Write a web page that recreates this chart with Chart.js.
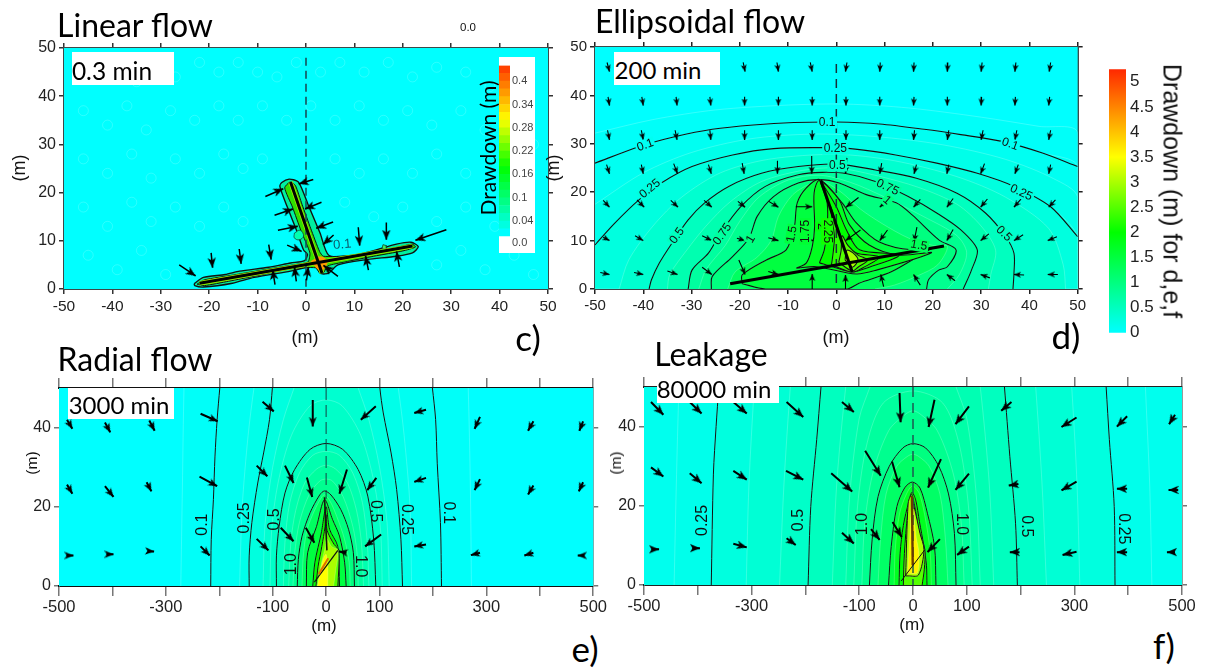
<!DOCTYPE html>
<html>
<head>
<meta charset="utf-8">
<title>Drawdown maps</title>
<script src="https://cdn.jsdelivr.net/npm/chart.js@4"></script>
<style>
  html, body { margin: 0; padding: 0; background: #fff; }
  #page { position: relative; width: 1210px; height: 668px; overflow: hidden; }
  canvas { position: absolute; }
  .txt { position: absolute; white-space: nowrap; color: #111; transform: translate(-50%, -50%); font-family: "Liberation Sans", sans-serif; }
  .big { font-family: Lato, sans-serif; color: #000; }
  .box { position: absolute; background: #fff; }
</style>
</head>
<body>
<div id="page"></div>
<script>
// ===== axis ticks =====
const tensTicks = [-50, -40, -30, -20, -10, 0, 10, 20, 30, 40, 50];
const depthTicks = [0, 10, 20, 30, 40, 50];
const wideTicks = [-500, -400, -300, -200, -100, 0, 100, 200, 300, 400, 500];
const wideLabels = [-500, -300, -100, 0, 100, 300, 500];
const lowDepthTicks = [0, 20, 40];

// ===== panel c, linear flow =====
const cOuter = [[-23.1,1.1],[-21.2,2.4],[-16.7,3],[-13.7,3.7],[-7.7,4.5],[-3.2,5.4],[-0.3,5.9],[0.3,7.2],[-0.5,8.1],[-2,12.3],[-3.9,17.1],[-5.4,21.3],[-5,22.1],[-3.5,22.8],[-1.7,22.3],[-0.9,20.9],[0.6,17.1],[2.9,11.6],[4.7,7],[8.9,6.9],[13.4,7.8],[18.7,9.3],[21.7,9.7],[23.2,8.8],[22,7.5],[18.7,6.8],[12.6,6.1],[6.6,5],[4.7,3.3],[3.2,3.2],[1.7,4.7],[-3.2,3.7],[-10.7,2.4],[-15.2,1.2],[-21.2,0.4],[-23,0.7],[-23.1,1.1]];
const cInner = [[-22.5,1],[-21,1.9],[-15,2.9],[-8,4.1],[-2,5.1],[0.4,5.6],[0.8,7.5],[-1,12],[-2.8,17],[-4.4,21],[-3.3,22.2],[-2.2,21.5],[-0.8,17.5],[1,12.5],[2.8,7.8],[3.6,6.8],[9,6.9],[15,7.9],[20,8.9],[22,9.3],[22.6,8.7],[20,7.9],[14,6.8],[8,5.6],[4.5,4.8],[3.7,3.5],[2.9,3.2],[2,4.4],[-3,4.2],[-10,2.8],[-16,1.6],[-21,0.7],[-22.5,1]];
const cSpot = [[1,5.8],[3,6.8],[4.5,5.8],[3.6,4],[2.5,4],[1,5.8]];
const cLoop1 = [[-2.4,11.6],[-1.2,12.2],[-0.5,11],[-1.4,10.2],[-2.4,10.6],[-2.4,11.6]];
const cLoop2 = [[15.7,8.3],[15.9,9.2],[16.6,9],[16.6,8.2],[15.7,8.3]];
const cBarH = [[-22,1.2],[22,8.9]];
const cBarV = [[-3.2,22.2],[3.3,3.3]];
const cDash = [[0,48],[0,0]];
const cArrows = [[-26.2,5,-22.8,2.7],[-19.6,7.5,-19.3,4.4],[-13.8,8.3,-13.4,5.2],[-7.7,9.2,-7.2,6.1],[-3.9,9.1,-0.9,7.8],[-5.8,12.2,-1.7,13],[-6.5,15.3,-2.7,16.6],[-8.4,19.2,-4.7,20.8],[1.5,22.7,-1.5,21.8],[3.2,18,-0.2,16.6],[5.6,13.9,2.1,12.6],[5.7,11.2,3.5,9.2],[10.8,12.8,11.1,9],[16.6,13.8,16.6,10.2],[29,12.3,22.6,10.1],[19.3,4.6,18.7,7.8],[12.9,3.9,12.3,6.9],[-6.4,0.9,-6.9,4],[-2,1.6,-2.4,4.6],[0.1,1.8,0.5,4.6],[6.6,2.6,3.6,4.9]];
const cSpecks = [[-47,44],[-43,46],[-38,47],[-35,43],[-31,46],[-27,44],[-22,47],[-18,45],[-14,47],[-10,45],[-6,44],[-2,47],[3,45],[7,47],[12,45],[17,47],[22,44],[27,46],[33,45],[38,42],[-46,37],[-41,34],[-37,38],[-33,33],[-28,37],[-23,35],[-18,38],[-14,35],[-9,38],[-4,35],[1,38],[6,35],[11,38],[16,35],[21,37],[26,34],[32,37],[37,33],[44,36],[47,30],[-46,27],[-41,24],[-36,28],[-32,23],[-27,27],[-22,24],[-17,28],[-13,25],[-9,27],[6,27],[11,24],[16,27],[22,24],[27,28],[33,24],[38,27],[45,22],[-46,17],[-41,13],[-36,18],[-32,14],[-27,17],[-22,13],[-17,17],[-13,14],[8,18],[14,15],[20,17],[27,14],[33,17],[39,13],[46,15],[-45,7],[-39,4],[-34,8],[-29,3],[27,5],[32,8],[37,4],[43,7],[47,3]];
const cBarEdges = [-0.02,0,0.02,0.04,0.06,0.08,0.1,0.12,0.14,0.16,0.18,0.2,0.22,0.24,0.26,0.28,0.3,0.32,0.34,0.36,0.38,0.4,0.42,0.44];
const cBarTicks = [-0.017,0.04,0.1,0.16,0.22,0.28,0.34,0.4];
const cBarLabels = ['0.0','0.04','0.1','0.16','0.22','0.28','0.34','0.4'];
const cTextLabels = [[7.5,9.2,'0.1',-5]];

// ===== panel d, ellipsoidal flow =====
const d005 = [[-50,32.2],[-38,35],[-25,37],[-10,38],[2,38.2],[15,37.4],[30,35.5],[42,33.6],[50,32.3]];
const d010 = [[-50,26],[-40.9,29.4],[-33.3,31.5],[-25.7,33],[-17.2,33.9],[-8.8,34.4],[0,34.5],[9,34.1],[18.2,33],[25.8,31.9],[34.3,30.5],[42.7,28.1],[50,25.3]];
const d017 = [[-50,17.5],[-40,24],[-30,28.2],[-18,31],[-5,32],[8,31.5],[22,29.8],[35,26.8],[45,22.8],[50,19]];
const d025 = [[-50,9.1],[-46,13.5],[-40.9,18.4],[-36.1,22],[-29.9,25.3],[-21.5,27.7],[-13,29],[-2.9,29.2],[3.9,28.9],[12.3,27.7],[20.8,26],[29.2,23.9],[36.8,21.2],[44.4,17],[50,10.8]];
const d037 = [[-45,0],[-43,6],[-38,13],[-32,19],[-24,24],[-14,26.8],[0,27.8],[12,26.5],[25,23.2],[35,19],[44,12.5],[47,5],[47.5,0]];
const d050 = [[-38.8,0],[-38.3,1.9],[-36.7,5.3],[-34.1,9.4],[-30.7,14.3],[-27.4,17.7],[-22.3,21.2],[-15.5,23.9],[-7.9,25.3],[0,25.8],[8.1,24.6],[16.6,22.9],[25,19.8],[30.9,15.7],[35.1,10.8],[36.8,7.4],[36.8,3.2],[36.6,0]];
const d062 = [[-35,0],[-34.5,3],[-31,8],[-27,13],[-22,18],[-15.5,22.2],[-7,24.5],[0,25],[8,23.5],[17,21],[25,17.5],[30,13],[33,8],[32,3],[31.5,0]];
const d075 = [[-30.7,0],[-29.9,3.9],[-26.5,7.4],[-24,11.5],[-19.8,17],[-14.7,21.2],[-7.9,23.6],[-2.9,24.1],[2.2,23.8],[8.1,22.2],[14.9,19.1],[20.8,15.7],[25.8,12.2],[29.2,8.1],[28,3.9],[26.3,0]];
const d087 = [[-28.5,0],[-27,4],[-23,9],[-20,14],[-16,19],[-10,22.5],[-3.5,23.5],[3,22],[10,19],[18,15],[25,11],[27,7.5],[25.5,3],[23,0]];
const d100 = [[-25.9,0],[-25.7,2.6],[-21.5,6.7],[-18.1,10.5],[-16.4,15],[-13,19.1],[-7.9,21.9],[-3.5,22.6],[0.6,21.9],[6.2,19.5],[12.4,17.8],[15.7,15.3],[21.3,10.1],[24.8,8.1],[23,4.6],[21.2,3.9],[19.1,1.9],[18.7,0]];
const d125 = [[-22.5,0],[-21,3.5],[-16.5,6.5],[-13.5,10],[-12,15],[-9,19.5],[-5,22],[-3.5,22.6],[1,20],[5,16.5],[9.5,13.5],[15,10.5],[20,9],[23,8.8],[21,5],[17,2.8],[12,0.8],[8,0]];
const d150 = [[-19.5,1.1],[-19.5,2.9],[-14.5,6],[-10.4,8.1],[-8.7,12.8],[-8.1,17.8],[-6.2,20.9],[-3.5,22.6],[1.2,17.8],[4.1,13.7],[8.9,9.7],[15.7,8.1],[21.9,8.7],[19.9,8.4],[11.5,3.6],[4.7,1.2],[2.2,0],[-14.7,0],[-19.5,1.1]];
const d175 = [[-8.3,4.3],[-6.2,5.4],[-5,8.7],[-4.5,12.8],[-4.6,19.9],[-3.5,22.4],[0.6,18.4],[2.7,13.3],[6.8,9.1],[13,7],[19.7,7.5],[8.3,3.9],[4.1,3.1],[-4.1,4.6],[-8.3,4.3]];
const d200 = [[-3.5,5.4],[-2.5,8.1],[-1.9,12.2],[-1.9,17.8],[-3.2,22],[0,17],[2.1,12.2],[4.8,8.1],[13,7],[6.2,4.3],[3.3,3.5],[-0.8,4.6],[-3.5,5.4]];
const d225 = [[-1,5],[-0.6,8],[-0.4,11],[-1.2,17],[0.5,12],[2,9],[4.3,7.4],[9,6.6],[5.5,4.4],[3.3,3.5],[-1,5]];
const d250 = [[0.5,5.5],[1,8],[1.2,11],[2.4,9],[4.5,7],[6.5,6],[4.5,4.5],[3.3,3.7],[0.5,5.5]];
const d300 = [[1.8,6],[2.2,8],[3.4,7.5],[4.5,6],[3.3,4.5],[1.8,6]];
const dBarH = [[-22,1.1],[22.3,8.9]];
const dBarV = [[-3.2,22.4],[3.3,3.5]];
const dDash = [[0,46.5],[0,0]];
const dArrowsRow1 = [[-47.5,46.8,-47,44.9],[-19.3,46.8,-18.9,44.9],[-12.3,46.8,-12,44.9],[-5.4,46.8,-5,44.9],[2.2,46.8,1.9,44.9],[9.1,46.8,9,44.9],[16.1,46.8,16,44.9],[23.1,46.8,23,44.9],[30.2,46.8,30,44.9],[37.2,46.8,37,44.9],[44.4,46.8,44.1,44.9]];
const dArrowsRow2 = [[-47.3,39.7,-47,37.9],[-40.3,39.7,-40,37.9],[-33.2,39.7,-33,37.9],[-26.2,39.7,-26,37.9],[-19,39.7,-19,37.9],[-12,39.7,-12,37.9],[-5,39.7,-5,37.9],[2,39.7,2,37.9],[9,39.7,9,37.9],[16.1,39.7,16,37.9],[23,39.7,23,37.9],[30.1,39.7,30,37.9],[37.1,39.7,37,37.9],[44.2,39.7,44,37.9]];
const dArrowsRow3 = [[-47.4,32.8,-47,30.8],[-40.4,32.8,-40,30.8],[-33.4,32.8,-33,30.8],[-26.2,32.8,-26,30.8],[-19,32.8,-19,30.8],[-12,32.8,-12,30.8],[-5,32.8,-5,30.8],[2,32.8,2,30.8],[9,32.8,9,30.8],[16.2,32.8,16,30.8],[23.3,32.8,23,30.8],[30.4,32.8,30,30.8],[37.4,32.8,37,30.8],[44.4,32.8,44,30.8]];
const dArrowsRow4 = [[-47.6,25.7,-47,23.8],[-40.4,25.7,-40,23.8],[-33.7,25.9,-32.9,23.8],[-26.5,25.7,-25.9,23.8],[-19.5,26,-19.1,23.8],[-12.2,26.5,-12.2,23.8],[-5.1,27.5,-5.1,23.8],[2.2,27.1,1.9,23.8],[9.4,26,9,23.8],[16.6,25.7,16.1,23.8],[23.3,25.7,22.9,23.8],[30.7,25.9,29.9,23.8],[37.7,25.7,37,23.8],[44.4,25.7,44,23.8]];
const dArrowsRow5 = [[-48.3,18.3,-47,16.9],[-41.3,18.4,-39.8,16.9],[-34.3,18.3,-32.8,16.9],[-27.4,18.3,-25.8,16.9],[-20.4,18.1,-18.9,16.9],[-14,18.1,-12,16.9],[-8.4,17,-5,17],[4.6,18.9,2,16.9],[11.1,18.9,9,16.9],[17.4,18.5,16,16.9],[24.2,18.7,22.9,16.9],[31.3,18.6,29.9,16.9],[38.3,18.6,36.8,16.9],[45.4,18.4,44,16.9]];
const dArrowsRow6 = [[-48.3,10.7,-47,10],[-41.7,11,-40,10],[-34.5,11,-32.9,10],[-27.8,11,-25.8,10],[-20.6,10.5,-18.9,10],[-14.1,10.6,-12,10],[-6.5,10.3,-4.8,10],[5,12.2,1.9,10],[10.6,12.2,9,10],[16.7,12.8,16.1,9.8],[24.2,12.3,22.9,10],[31.6,11.4,29.9,10],[38.7,11.2,36.8,10],[45.7,10.8,43.8,10]];
const dArrowsRow7 = [[-48.9,3.4,-47,3],[-41.9,3.4,-40,3],[-35,3.7,-32.9,3],[-27.8,4.5,-25.8,3],[-20.2,6,-18.9,3],[-14.1,3.6,-12,3],[-5,0,-5,3.1],[1.9,0,1.9,2.9],[9.8,0.5,9.2,3],[17.4,0.8,16,3],[24.6,1.7,22.9,3],[31.8,2.3,29.9,3],[38.9,2.9,36.8,3],[45.9,3,43.8,3]];
const dTextLabels = [[-1.9,34.4,'0.1',0],[-39.6,29.7,'0.1',-20],[36,29.9,'0.1',20],[-0.2,29,'0.25',0],[-38.6,20.7,'0.25',-40],[38.3,19.9,'0.25',25],[0.2,25.5,'0.5',0],[-33,11,'0.5',-55],[34.7,11.4,'0.5',45],[10.6,21,'0.75',25],[-23.6,11.3,'0.75',-55],[10.5,18.3,'1',40],[-17.7,10.3,'1',-60],[-9.2,11.3,'1.5',-80],[-6.4,11.9,'1.75',-90],[-3.1,12.9,'2',90],[-1.9,11.9,'2.25',90],[17.1,9,'1.5',10]];
const dBarTicks = [0,0.5,1,1.5,2,2.5,3,3.5,4,4.5,5];

// ===== panel e, radial flow (sides run on past y = 50, the frame cuts them) =====
const e005 = [[-272,0],[-269,25],[-266,50],[-263,58],[263,58],[266,50],[270,25],[272,0]];
const e010 = [[-216,0],[-215,11.8],[-211,21.8],[-208,32.8],[-204,42],[-199,50],[-193,58],[193,58],[199,50],[205,42],[208,31],[214,16],[216,0]];
const e017 = [[-162,0],[-157,20],[-146,38],[-135,50],[-125,58],[125,58],[135,50],[146,38],[157,20],[160,0]];
const e025 = [[-144,0],[-144,7.6],[-139,16],[-128,26],[-117,33.6],[-106,42],[-100.6,50],[-96,58],[96,58],[100.6,50],[107,43.7],[121.6,33.6],[132,24.4],[140,11.8],[143,0]];
const e037 = [[-118,0],[-114,16],[-100,30],[-80,42],[-60,50],[-40,58],[40,58],[60,50],[80,42],[100,30],[114,16],[118,0]];
const e043 = [[-105,0],[-102,14],[-90,26],[-65,38],[-30,45.5],[0,47],[30,45.5],[65,38],[90,26],[102,14],[105,0]];
const e050 = [[-93,0],[-93,7.6],[-88,15],[-77,23.5],[-59,29.4],[-30,34.5],[0,36],[31,34.5],[60,29.4],[78,22.7],[89,11.8],[93,0]];
const e062 = [[-80,0],[-77,11],[-68,21],[-50,28.5],[-25,33],[0,34],[25,33],[50,28.5],[68,21],[77,11],[80,0]];
const e075 = [[-70,0],[-66,11],[-57,19],[-40,26],[-18,29.5],[0,30.5],[18,29.5],[40,26],[57,19],[66,11],[70,0]];
const e087 = [[-62,0],[-59,8],[-50,16],[-32,23],[-12,26.5],[0,27],[12,26.5],[32,22.5],[50,15],[58,8],[60,0]];
const e100 = [[-54,0],[-52,6.7],[-45,12.6],[-30,18.5],[-12,23],[-3,24],[9,23],[27.5,19.3],[42,14.3],[51,8.4],[53,0]];
const e125 = [[-45,0],[-43,7],[-36,14],[-22,19],[-8,22.5],[-3,23],[7,21.5],[20,17.5],[34,12],[43,6],[45,0]];
const e150 = [[-37,0],[-34.6,8.4],[-18,15],[-3,21.8],[12,16.8],[25,12.6],[34.6,6],[37.5,0]];
const e200 = [[-25,0],[-21,6],[-9,13.4],[0,20],[6.5,14.3],[21.8,10],[25,0]];
const e250 = [[-19,0],[-15,5],[-8,10],[-2,15],[0,18],[2,14],[15,10.5],[24,9],[22,0]];
const e300 = [[-16,0],[-10,5],[-3,9],[1,12],[10,10],[22,9],[18,4],[14,0]];
const e350 = [[-16,0],[-12,3],[-5,7],[0,8],[3,5],[3,0]];
const eBarH = [[-22,1],[22,9]];
const eBarHot = [[-14,3],[4,7]];
const eBarV = [[-3,22.4],[1.5,9]];
const eDash = [[0,50],[0,22]];
const eArrowsTop = [[-485,42,-475,39.7],[-414,41.3,-404,38.8],[-331,41.8,-321,39.2],[-235,43.5,-203,41.6],[-119,46.5,-98,44.1],[-25,47,-25,40.3],[93,45.4,65,42],[187,44.5,165,43.7],[288,42.7,278,39.7],[388,41.6,378,39.2],[481,41.6,474,39.2]];
const eArrowsMid = [[-485,25.6,-475,23.3],[-414,25.2,-398,22.5],[-336,26.2,-327,23.9],[-237,27.6,-204,25.2],[-130,30.4,-110,27.7],[-77,30.4,-61,26],[-36,27.4,-26,22.5],[39,29.4,25,23.3],[94,27.3,77,24.2],[187,27.3,165,26.3],[288,27,278,24.2],[388,25.4,378,23.1],[481,26.2,473,23.9]];
const eArrowsLow = [[-486,7.7,-473,7.7],[-411,8,-398,8],[-332,8.8,-322,8.7],[-235,10,-218,7.7],[-130,11.9,-108,9],[-85,14.7,-61,11.3],[-38,14.7,-22,10.9],[103,13,73,10],[38,8.4,24,8.7],[187,10.5,165,10],[288,8.4,271,7.8],[388,8.4,371,7.7],[481,7.7,471,7.7]];
const eTextLabels = [[-231.5,15.5,'0.1',-90],[-152,17.2,'0.25',-90],[-97,16.8,'0.5',-90],[-65,5.5,'1.0',-90],[92.6,18.9,'0.5',90],[150.5,16.8,'0.25',90],[228,18.5,'0.1',90],[63.7,5,'1.0',90]];

// ===== panel f, leakage (sides run on past y = 50 as well) =====
const f016 = [[-444,0],[-440,25],[-435,50],[-432,58],[430,58],[432,50],[440,25],[444,0]];
const f025 = [[-375,0],[-371,28],[-366,40],[-361,50],[-357,58],[355,58],[359,50],[365,36.7],[374,19.8],[375.5,0]];
const f033 = [[-310,0],[-305,25],[-295,50],[-290,58],[290,58],[295,50],[305,25],[310,0]];
const f042 = [[-248,0],[-240,25],[-228,50],[-222,58],[222,58],[228,50],[240,25],[248,0]];
const f050 = [[-195,0],[-190,19.8],[-179,36.7],[-171,50],[-166,58],[165,58],[170,50],[180,32.5],[190.6,15.6],[194,0]];
const f060 = [[-150,0],[-142,25],[-125,50],[-115,58],[115,58],[125,50],[142,25],[150,0]];
const f068 = [[-125,0],[-118,22],[-100,42],[-80,50],[-60,58],[60,58],[80,50],[100,42],[118,22],[125,0]];
const f076 = [[-110,0],[-103,20],[-85,36],[-55,46],[0,49],[55,46],[85,36],[103,20],[110,0]];
const f088 = [[-95,0],[-90,15],[-75,28],[-45,39],[-15,43],[0,44],[15,43],[45,39],[75,28],[90,15],[95,0]];
const f100 = [[-81,0],[-76,11.4],[-65,22.3],[-44,30],[-19,34.6],[0,35.7],[23.5,34.6],[48,30],[66,23],[77,13],[80,0]];
const f120 = [[-65,0],[-60,12],[-50,23],[-30,30],[-10,32.5],[0,33],[10,32.5],[30,30],[50,23],[60,12],[65,0]];
const f150 = [[-45.5,0],[-40.5,9.7],[-30,19.8],[-15.6,24.5],[-1.4,26],[13,24.5],[27,18],[40,9.7],[42.7,0]];
const f175 = [[-35,0],[-33,9],[-25,18],[-12,23],[-1,25],[12,23],[24,16],[32,8],[34,0]];
const f200 = [[-26,0],[-24,8],[-18,15],[-8,21],[-2,23.4],[5,21.5],[12,16],[20,10],[25,5],[26,0]];
const f250 = [[-18,0],[-16,8],[-10,18],[-3,23],[3,20],[11,14],[22,9],[21,4],[17,0]];
const f300 = [[-13.6,2.3],[-9,20.7],[-4,22.4],[2,19.8],[13,13],[20.4,8.9],[10,2.5],[-9,2.3],[-13.6,2.3]];
const f350 = [[-10,3],[-6,12],[-3,19],[0,19],[6,12],[11,8],[8,3],[-10,3]];
const fBarH = [[-22,1],[22,8.9]];
const fBarV = [[-2,22.5],[-0.5,5]];
const fDash = [[0,50],[0,0]];
const fArrowsTop = [[-487,46.2,-464,43],[-415,46.2,-393,43.3],[-334,46.2,-309,43.3],[-235,46.2,-204,42.4],[-132,46.2,-110,43.7],[-25,48.5,-23,41.1],[40,46.8,29,39.9],[104,45.1,79,40.6],[183,46.2,164,44],[304,42.3,276,39.9],[398,42.6,379,40],[487,43,476,40.6]];
const fArrowsMid = [[-487,29.7,-464,27.4],[-415,28.2,-393,25.7],[-334,28.8,-309,26.6],[-236,28.8,-204,26.6],[-152,28.2,-113,23.6],[-89,33.9,-60,27.6],[-39,31.2,-25,24.7],[52,31.8,28,24.6],[104,28.1,79,24],[196,25.5,178,25.1],[304,26.1,276,23.9],[398,24.3,379,24.3],[493,24,475,24]];
const fArrowsLow = [[-486,9,-472,9],[-410,9.3,-396,9.3],[-334,10.4,-309,9.5],[-235,11.8,-218,10.1],[-132,13.2,-110,10.5],[-78,14.1,-62,11.4],[-38,15.9,-21,12.1],[50,11.6,27,8.3],[104,9.7,82,7.6],[198,8.3,180,8.3],[304,8.4,278,7.6],[398,8.3,379,8.3],[487,8.3,472,8.3]];
const fTextLabels = [[-391,16.3,'0.25',-90],[-213,16.4,'0.5',-90],[-94,15.4,'1.0',-90],[90,15.4,'1.0',90],[210.5,14.8,'0.5',90],[392,14.2,'0.25',90]];

// Colour map shared by the drawdown panels
const mapStops = [[0,[0,255,255]],[2,[0,255,0]],[3.5,[255,255,0]],[5.25,[255,40,0]]];

function mapColour(v) {
    for (let i = 1; i < mapStops.length; i++) {
        if (v <= mapStops[i][0]) {
            const a = mapStops[i - 1], b = mapStops[i];
            const t = Math.max(0, (v - a[0]) / (b[0] - a[0]));
            const c = a[1].map((n, k) => Math.round(n + (b[1][k] - n) * t));
            return 'rgb(' + c.join(',') + ')';
        }
    }
    return 'rgb(255,40,0)';
}

function toPoints(pairs) {
    return pairs.map(p => ({ x: p[0], y: p[1] }));
}

// Contour table rows: [level, points, black line?, extra points closing the fill]
function contourSets(table, lineWidth, tension) {
    const sets = [];
    table.forEach(row => {
        const closing = row[3] || [];
        sets.push({
            data: toPoints(row[1].concat(closing)), showLine: true, fill: 'shape', tension: tension,
            backgroundColor: mapColour(row[0]), borderColor: 'rgba(255,255,255,0.35)', borderWidth: 0.6, pointRadius: 0
        });
        if (row[2]) {
            sets.push({ data: toPoints(row[1]), showLine: true, fill: false, tension: tension, borderColor: '#111', borderWidth: lineWidth, pointRadius: 0 });
        }
    });
    return sets;
}

function lineSet(pairs, colour, width, dash) {
    return { data: toPoints(pairs), showLine: true, fill: false, tension: 0, borderColor: colour, borderWidth: width, borderDash: dash || [], pointRadius: 0 };
}

// Arrow head with its tip in the middle of the image, so the point sits on the tip
function headImage(length) {
    const img = document.createElement('canvas');
    img.width = img.height = length * 2;
    const g = img.getContext('2d');
    g.fillStyle = '#000';
    g.beginPath();
    g.moveTo(length, length);
    g.lineTo(length - length * 0.42, length * 2);
    g.lineTo(length, length * 1.75);
    g.lineTo(length + length * 0.42, length * 2);
    g.closePath();
    g.fill();
    return img;
}

function arrowSet(list, headLength, width) {
    const data = [];
    list.forEach(a => {
        data.push({ x: a[0], y: a[1] }, { x: a[2], y: a[3] }, { x: NaN, y: NaN });
    });
    return {
        data: data, showLine: true, fill: false, tension: 0, borderColor: '#000', borderWidth: width,
        pointStyle: headImage(headLength),
        pointRadius: c => (c.dataIndex % 3 === 1 ? headLength : 0),
        pointRotation: c => {
            if (c.dataIndex % 3 !== 1) return 0;
            const sx = c.chart.scales.x, sy = c.chart.scales.y;
            const a = list[(c.dataIndex - 1) / 3];
            const dx = sx.getPixelForValue(a[2]) - sx.getPixelForValue(a[0]);
            const dy = sy.getPixelForValue(a[3]) - sy.getPixelForValue(a[1]);
            return Math.atan2(dx, -dy) * 180 / Math.PI;
        }
    };
}

function labelPlugin(items, font, colour, backdropLevels) {
    return {
        id: 'contourLabels',
        afterDatasetsDraw(chart) {
            const g = chart.ctx;
            g.save();
            g.font = font;
            g.textAlign = 'center';
            g.textBaseline = 'middle';
            items.forEach((it, i) => {
                g.save();
                g.translate(chart.scales.x.getPixelForValue(it[0]), chart.scales.y.getPixelForValue(it[1]));
                g.rotate(it[3] * Math.PI / 180);
                if (backdropLevels) {
                    const w = g.measureText(it[2]).width + 3;
                    g.fillStyle = mapColour(backdropLevels[i]);
                    g.fillRect(-w / 2, -6, w, 12);
                }
                g.fillStyle = colour;
                g.fillText(it[2], 0, 0);
                g.restore();
            });
            g.restore();
        }
    };
}

function panel(cfg) {
    const canvas = document.createElement('canvas');
    const m = cfg.margin, b = cfg.box;
    canvas.style.left = (b[0] - m[0]) + 'px';
    canvas.style.top = (b[1] - m[2]) + 'px';
    canvas.width = b[2] - b[0] + m[0] + m[1];
    canvas.height = b[3] - b[1] + m[2] + m[3];
    document.getElementById('page').appendChild(canvas);

    const fixed = (list) => (scale) => { scale.ticks = list.map(v => ({ value: v })); };
    const border = { display: true, color: cfg.frame, width: cfg.frameWidth };
    const sideBorder = { display: true, color: cfg.sideFrame || cfg.frame, width: cfg.sideWidth || cfg.frameWidth };
    const grid = (len) => ({ drawOnChartArea: false, drawTicks: true, tickLength: len, color: cfg.tickColour, lineWidth: 1.5 });

    new Chart(canvas, {
        type: 'scatter',
        data: { datasets: cfg.sets.slice().reverse() },
        options: {
            responsive: false, animation: false, events: [],
            layout: { padding: 0 },
            plugins: { legend: { display: false }, tooltip: { enabled: false } },
            scales: {
                x: {
                    type: 'linear', border: border,
                    position: 'bottom', min: cfg.xRange[0], max: cfg.xRange[1], grid: grid(cfg.xTick),
                    afterBuildTicks: fixed(cfg.xTicks), afterFit: s => { s.height = m[3]; },
                    ticks: {
                        autoSkip: false, maxRotation: 0, padding: cfg.xPad, color: '#222', font: { family: 'Liberation Sans', size: cfg.xFont },
                        callback: v => (cfg.xLabels.includes(v) ? String(v) : '')
                    }
                },
                xTop: {
                    type: 'linear', border: border,
                    position: 'top', min: cfg.xRange[0], max: cfg.xRange[1], grid: grid(cfg.xTick),
                    afterBuildTicks: fixed(cfg.xTicks), afterFit: s => { s.height = m[2]; },
                    ticks: { display: false }
                },
                y: {
                    type: 'linear', border: sideBorder,
                    position: 'left', min: 0, max: 50, grid: grid(5),
                    afterBuildTicks: fixed(cfg.yTicks), afterFit: s => { s.width = m[0]; },
                    ticks: { autoSkip: false, padding: 3, color: '#222', font: { family: 'Liberation Sans', size: cfg.yFont } }
                },
                yRight: {
                    type: 'linear', border: sideBorder,
                    position: 'right', min: 0, max: 50, grid: grid(5),
                    afterBuildTicks: fixed(cfg.yTicks), afterFit: s => { s.width = m[1]; },
                    ticks: { display: false }
                }
            }
        },
        plugins: [
            {
                id: 'plotBackground',
                beforeDatasetsDraw(chart) {
                    const a = chart.chartArea;
                    chart.ctx.fillStyle = cfg.background;
                    chart.ctx.fillRect(a.left, a.top, a.width, a.height);
                }
            },
            labelPlugin(cfg.labels, cfg.labelFont, cfg.labelColour, cfg.labelBack)
        ]
    });
}

function colourBar(cfg) {
    const canvas = document.createElement('canvas');
    canvas.style.left = cfg.left + 'px';
    canvas.style.top = cfg.top + 'px';
    canvas.width = cfg.width;
    canvas.height = cfg.height;
    document.getElementById('page').appendChild(canvas);
    new Chart(canvas, {
        type: 'bar',
        data: { labels: [''], datasets: cfg.sets },
        options: {
            responsive: false, animation: false, events: [],
            layout: { padding: { top: cfg.padTop, bottom: cfg.padBottom } },
            plugins: { legend: { display: false }, tooltip: { enabled: false } },
            scales: {
                x: { display: false },
                y: {
                    position: 'right', min: cfg.range[0], max: cfg.range[1],
                    border: { display: false }, grid: { display: false, drawTicks: false },
                    afterBuildTicks: s => { s.ticks = cfg.ticks.map(v => ({ value: v })); },
                    afterFit: s => { s.width = cfg.axisWidth; },
                    ticks: {
                        autoSkip: false, padding: cfg.tickPad, color: cfg.tickColour,
                        font: { family: 'Liberation Sans', size: cfg.tickFont },
                        callback: cfg.tickText
                    }
                }
            }
        }
    });
}

function addText(text, x, y, size, cls, rot) {
    const el = document.createElement('div');
    el.className = 'txt ' + (cls || '');
    el.textContent = text;
    el.style.left = x + 'px';
    el.style.top = y + 'px';
    el.style.fontSize = size + 'px';
    if (rot) el.style.transform = 'translate(-50%,-50%) rotate(' + rot + 'deg)';
    document.getElementById('page').appendChild(el);
    return el;
}

function addBox(left, top, right, bottom) {
    const el = document.createElement('div');
    el.className = 'box';
    el.style.left = left + 'px';
    el.style.top = top + 'px';
    el.style.width = (right - left) + 'px';
    el.style.height = (bottom - top) + 'px';
    document.getElementById('page').appendChild(el);
}

// ===== panels =====
panel({
    box: [64, 48, 548, 289], margin: [54, 20, 28, 58],
    xRange: [-50, 50], xTicks: tensTicks, xLabels: tensTicks, yTicks: depthTicks,
    xTick: 5, xPad: 3, xFont: 15.5, yFont: 16, frame: '#3c4a4a', frameWidth: 2, tickColour: '#333',
    background: '#00ffff', labels: cTextLabels, labelFont: '13px "Liberation Sans"', labelColour: '#0b5a6a',
    sets: [
        { data: toPoints(cSpecks), pointRadius: 5, pointStyle: 'circle', pointBackgroundColor: 'transparent', pointBorderColor: 'rgba(255,255,255,0.25)', pointBorderWidth: 0.7 },
        { data: toPoints(cOuter), showLine: true, fill: 'shape', tension: 0.25, backgroundColor: '#00f0a0', borderColor: '#111', borderWidth: 1.4, pointRadius: 0 },
        { data: toPoints(cInner), showLine: true, fill: 'shape', tension: 0.2, backgroundColor: '#30e000', borderColor: '#111', borderWidth: 1, pointRadius: 0 },
        { data: toPoints(cLoop1), showLine: true, fill: 'shape', tension: 0.4, backgroundColor: '#00ffb0', borderColor: '#143', borderWidth: 0.8, pointRadius: 0 },
        { data: toPoints(cLoop2), showLine: true, fill: 'shape', tension: 0, backgroundColor: '#40f060', borderColor: '#143', borderWidth: 0.8, pointRadius: 0 },
        lineSet(cBarH, '#a8f000', 4.5),
        lineSet(cBarV, '#a8f000', 4.5),
        { data: toPoints(cSpot), showLine: true, fill: 'shape', tension: 0.3, backgroundColor: '#ff9a00', borderColor: 'transparent', borderWidth: 0, pointRadius: 0 },
        lineSet(cDash, '#17505a', 1.6, [8, 5]),
        lineSet(cBarH, '#000', 3),
        lineSet(cBarV, '#000', 3),
        arrowSet(cArrows, 10, 1.5)
    ]
});

const dSideClose = [[50,0],[-50,0]];
panel({
    box: [595, 47, 1079, 289], margin: [48, 10, 28, 58],
    xRange: [-50, 50], xTicks: tensTicks, xLabels: tensTicks, yTicks: depthTicks,
    xTick: 5, xPad: 3, xFont: 15, yFont: 15, frame: '#3c4a4a', frameWidth: 2, tickColour: '#222',
    background: '#00ffff', labels: dTextLabels, labelFont: '12px "Liberation Sans"', labelColour: '#111',
    labelBack: [0.1,0.1,0.1,0.25,0.25,0.25,0.5,0.5,0.5,0.75,0.75,1,1,1.5,1.6,1.9,2.1,1.3],
    sets: contourSets([
        [0.05, d005, false, dSideClose],
        [0.1, d010, true, dSideClose],
        [0.17, d017, false, dSideClose],
        [0.25, d025, true, dSideClose],
        [0.37, d037, false],
        [0.5, d050, true],
        [0.62, d062, false],
        [0.75, d075, true],
        [0.87, d087, false],
        [1, d100, true],
        [1.25, d125, false],
        [1.5, d150, true],
        [1.75, d175, true],
        [2, d200, true],
        [2.25, d225, true],
        [2.5, d250, true],
        [3, d300, true]
    ], 1.1, 0.3).concat([
        lineSet(dDash, '#17303a', 1.5, [9, 6]),
        lineSet(dBarH, '#000', 3),
        lineSet(dBarV, '#000', 3),
        arrowSet(dArrowsRow1, 7, 1.1),
        arrowSet(dArrowsRow2, 7, 1.1),
        arrowSet(dArrowsRow3, 7, 1.1),
        arrowSet(dArrowsRow4, 7, 1.1),
        arrowSet(dArrowsRow5, 7, 1.1),
        arrowSet(dArrowsRow6, 7, 1.1),
        arrowSet(dArrowsRow7, 7, 1.1)
    ])
});

panel({
    box: [59, 388, 597, 586], margin: [50, 12, 14, 34],
    xRange: [-500, 500], xTicks: wideTicks, xLabels: wideLabels, yTicks: lowDepthTicks,
    xTick: 10, xPad: 2, xFont: 16.5, yFont: 16, frame: '#111', frameWidth: 2, sideFrame: '#999', sideWidth: 1, tickColour: '#777',
    background: '#00ffff', labels: eTextLabels, labelFont: '16px "Liberation Sans"', labelColour: '#111',
    sets: contourSets([
        [0.05, e005, false],
        [0.1, e010, true],
        [0.17, e017, false],
        [0.25, e025, true],
        [0.37, e037, false],
        [0.43, e043, false],
        [0.5, e050, true],
        [0.62, e062, false],
        [0.75, e075, false],
        [0.87, e087, false],
        [1, e100, true],
        [1.25, e125, false],
        [1.5, e150, true],
        [2, e200, true],
        [2.5, e250, true],
        [3, e300, false],
        [3.5, e350, false]
    ], 1, 0.3).concat([
        lineSet(eDash, '#144', 1, [12, 5]),
        lineSet(eBarH, '#111', 1.2),
        lineSet(eBarHot, '#e07000', 2),
        lineSet(eBarV, '#111', 1.6),
        arrowSet(eArrowsTop, 9, 2),
        arrowSet(eArrowsMid, 9, 2),
        arrowSet(eArrowsLow, 9, 2)
    ])
});

panel({
    box: [644, 387, 1182, 585], margin: [34, 16, 14, 34],
    xRange: [-500, 500], xTicks: wideTicks, xLabels: wideLabels, yTicks: lowDepthTicks,
    xTick: 10, xPad: 2, xFont: 16.5, yFont: 16, frame: '#222', frameWidth: 2, sideFrame: '#999', sideWidth: 1, tickColour: '#777',
    background: 'rgb(0,255,238)', labels: fTextLabels, labelFont: '16px "Liberation Sans"', labelColour: '#111',
    sets: contourSets([
        [0.16, f016, false],
        [0.25, f025, true],
        [0.33, f033, false],
        [0.42, f042, false],
        [0.5, f050, true],
        [0.6, f060, false],
        [0.68, f068, false],
        [0.76, f076, false],
        [0.88, f088, false],
        [1, f100, true],
        [1.2, f120, false],
        [1.5, f150, true],
        [1.75, f175, false],
        [2, f200, true],
        [2.5, f250, true],
        [3, f300, true],
        [3.6, f350, false]
    ], 1, 0.3).concat([
        lineSet(fDash, '#1d5a50', 1.5, [10, 6]),
        lineSet(fBarV, '#6a3a00', 2.4),
        lineSet(fBarH, '#111', 1),
        arrowSet(fArrowsTop, 10, 2),
        arrowSet(fArrowsMid, 10, 2),
        arrowSet(fArrowsLow, 10, 2)
    ])
});

// ===== colour bars =====
addBox(499, 57, 535, 253);
colourBar({
    left: 499, top: 57, width: 36, height: 196, padTop: 0, padBottom: 6, axisWidth: 25,
    range: [-0.02, 0.44], ticks: cBarTicks, tickPad: 2, tickFont: 11, tickColour: '#444',
    tickText: v => cBarLabels[cBarTicks.indexOf(v)],
    sets: cBarEdges.slice(1).map((top, i) => ({
        data: [[cBarEdges[i], top]], grouped: false, barPercentage: 1, categoryPercentage: 1,
        backgroundColor: cBarEdges[i] < 0 ? '#fff' : mapColour(cBarEdges[i] * 12)
    }))
});

colourBar({
    left: 1109, top: 55, width: 60, height: 292, padTop: 7, padBottom: 12, axisWidth: 43,
    range: [0, 5.25], ticks: dBarTicks, tickPad: 4, tickFont: 17, tickColour: '#222',
    tickText: v => String(v),
    sets: [{
        data: [[0, 5.25]], barPercentage: 1, categoryPercentage: 1,
        backgroundColor: c => {
            const area = c.chart.chartArea;
            if (!area) return '#00ffff';
            const g = c.chart.ctx.createLinearGradient(0, area.bottom, 0, area.top);
            mapStops.forEach(s => g.addColorStop(s[0] / 5.25, mapColour(s[0])));
            return g;
        }
    }]
});

// ===== panel titles, time boxes, axis names =====
addText('Linear flow', 135, 24, 32, 'big');
addText('Ellipsoidal flow', 700, 20, 32, 'big');
addText('Radial flow', 135, 358, 32, 'big');
addText('Leakage', 711, 353, 32, 'big');
addText('c)', 528, 337, 35, 'big');
addText('d)', 1066, 335, 35, 'big');
addText('e)', 585, 648, 35, 'big');
addText('f)', 1164, 645, 35, 'big');

addText('0.0', 468, 27, 11.5);
addText('Drawdown (m)', 487, 148, 21, 'big', -90);
addText('Drawdown (m) for d,e,f', 1172, 191, 25, '', 90);

addBox(72, 52, 174, 85);
addBox(614, 52, 720, 85);
addBox(68, 388, 174, 419);
addBox(657, 377, 779, 403);
addText('0.3 min', 112, 70, 24.5, 'big');
addText('200 min', 658, 69, 24, 'big');
addText('3000 min', 119, 404, 24, 'big');
addText('80000 min', 714, 388, 24, 'big');

addText('(m)', 305, 337, 18);
addText('(m)', 19, 168, 18, '', -90);
addText('(m)', 836, 337, 18);
addText('(m)', 32, 463, 15.5, '', -90);
addText('(m)', 324, 626, 17);
addText('(m)', 616, 463, 15.5, '', -90);
addText('(m)', 912, 625, 17);
// left name of panel d is partly hidden behind panel c
addText('(m)', 553, 168, 18, '', -90).style.clipPath = 'inset(3px 0 0 0)';
</script>
</body>
</html>
